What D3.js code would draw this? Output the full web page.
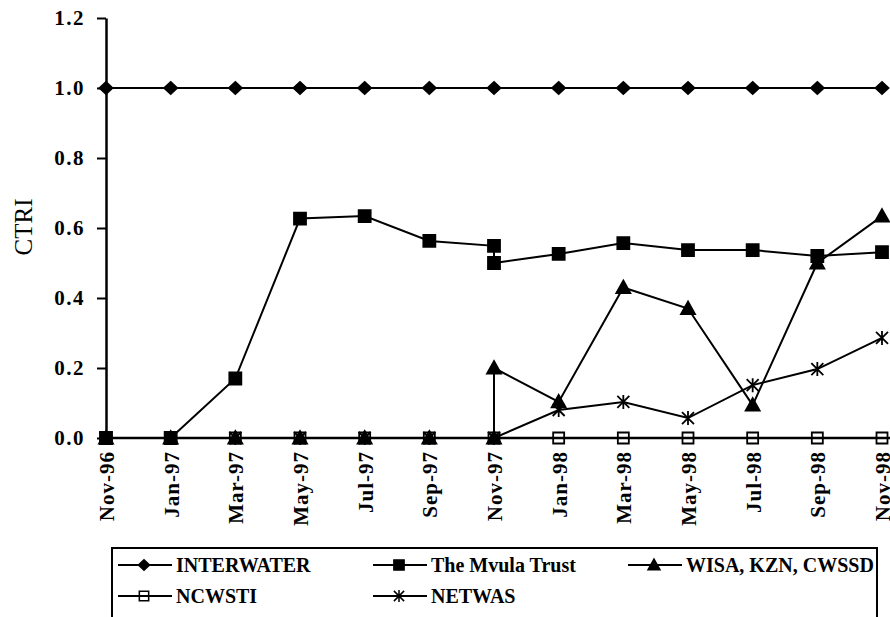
<!DOCTYPE html>
<html>
<head>
<meta charset="utf-8">
<script src="https://d3js.org/d3.v7.min.js"></script>
<style>
  body { margin: 0; background: #fff; }
  svg text { font-family: "Liberation Serif", "Times New Roman", serif; fill: #000; }
</style>
</head>
<body>
<div id="chart"></div>
<script>
// tick labels along the x axis, one every two months
var months = ["Nov-96", "Jan-97", "Mar-97", "May-97", "Jul-97", "Sep-97", "Nov-97",
              "Jan-98", "Mar-98", "May-98", "Jul-98", "Sep-98", "Nov-98"];
var yTicks = [0, 0.2, 0.4, 0.6, 0.8, 1.0, 1.2];

// series (x = index into months; Nov-97 has two readings for some series)
var interwaterX = [0, 1, 2, 3, 4, 5, 6, 7, 8, 9, 10, 11, 12];
var interwaterY = [1, 1, 1, 1, 1, 1, 1, 1, 1, 1, 1, 1, 1];

var mvulaX = [0, 1, 2, 3, 4, 5, 6, 6, 7, 8, 9, 10, 11, 12];
var mvulaY = [0, 0, 0.17, 0.627, 0.634, 0.563, 0.549, 0.50, 0.526, 0.557, 0.537, 0.537, 0.52, 0.531];

var wisaX = [0, 1, 2, 3, 4, 5, 6, 6, 7, 8, 9, 10, 11, 12];
var wisaY = [0, 0, 0, 0, 0, 0, 0, 0.2, 0.103, 0.43, 0.37, 0.094, 0.5, 0.634];

var ncwstiX = [0, 1, 2, 3, 4, 5, 6, 7, 8, 9, 10, 11, 12];
var ncwstiY = [0, 0, 0, 0, 0, 0, 0, 0, 0, 0, 0, 0, 0];

var netwasX = [0, 1, 2, 3, 4, 5, 6, 7, 8, 9, 10, 11, 12];
var netwasY = [0, 0, 0, 0, 0, 0, 0, 0.08, 0.103, 0.057, 0.151, 0.197, 0.286];

var seriesNames = ["INTERWATER", "The Mvula Trust", "WISA, KZN, CWSSD", "NCWSTI", "NETWAS"];

var width = 890, height = 617;
var svg = d3.select("#chart").append("svg")
  .attr("width", width).attr("height", height);

var x = d3.scaleLinear().domain([0, 12]).range([106, 882]);
var y = d3.scaleLinear().domain([0, 1.2]).range([438, 18]);

// marker shapes
function marker(type) {
  if (type == "diamond") return "M0,-6L6.5,0L0,6L-6.5,0Z";
  if (type == "square") return "M-6,-6H6V6H-6Z";
  if (type == "smallsquare") return "M-5.5,-5.5H5.5V5.5H-5.5Z";
  if (type == "triangle") return "M0,-7L7,5.5H-7Z";
  if (type == "star") return "M-6,-6L6,6M-6,6L6,-6M0,-7V7";
}

var series = [
  { name: seriesNames[3], xs: ncwstiX, ys: ncwstiY, shape: "smallsquare", fill: "none" },
  { name: seriesNames[2], xs: wisaX, ys: wisaY, shape: "triangle", fill: "#000" },
  { name: seriesNames[4], xs: netwasX, ys: netwasY, shape: "star", fill: "none" },
  { name: seriesNames[1], xs: mvulaX, ys: mvulaY, shape: "square", fill: "#000" },
  { name: seriesNames[0], xs: interwaterX, ys: interwaterY, shape: "diamond", fill: "#000" }
];

// axes
var yAxis = d3.axisLeft(y).tickValues(yTicks).tickFormat(d3.format(".1f"))
  .tickSize(9).tickSizeOuter(0).tickPadding(12);
var gy = svg.append("g").attr("transform", "translate(106,0)").call(yAxis);
gy.select(".domain").attr("stroke", "#000").attr("stroke-width", 2.5);
gy.selectAll(".tick line").attr("stroke", "#000").attr("stroke-width", 2);
gy.selectAll(".tick text")
  .style("font-size", "21px").style("font-weight", "bold")
  .style("letter-spacing", "1.5px")
  .style("font-family", "'Liberation Serif', serif");

var xAxis = d3.axisBottom(x).tickValues(d3.range(months.length))
  .tickFormat(function(i) { return months[i]; })
  .tickSize(0).tickSizeOuter(0);
var gx = svg.append("g").attr("transform", "translate(0,438)").call(xAxis);
gx.select(".domain").attr("d", "M106,0H890").attr("stroke", "#000").attr("stroke-width", 2.5);
gx.selectAll(".tick text")
  .attr("transform", "rotate(-90)")
  .attr("text-anchor", "end")
  .attr("x", -13).attr("y", 0).attr("dy", "0.35em")
  .style("font-size", "21px").style("font-weight", "bold")
  .style("letter-spacing", "1px")
  .style("font-family", "'Liberation Serif', serif");

// y axis title
svg.append("text")
  .attr("transform", "translate(32,227) rotate(-90)")
  .attr("text-anchor", "middle")
  .style("font-size", "25px")
  .text("CTRI");

// lines
var line = d3.line().x(function(d) { return x(d[0]); }).y(function(d) { return y(d[1]); });

series.forEach(function(s) {
  var pts = s.xs.map(function(v, i) { return [v, s.ys[i]]; });
  svg.append("path").datum(pts)
    .attr("d", line)
    .attr("fill", "none").attr("stroke", "#000").attr("stroke-width", 2);
});

// markers drawn on top
series.forEach(function(s) {
  var pts = s.xs.map(function(v, i) { return [v, s.ys[i]]; });
  svg.append("g").selectAll("path").data(pts).enter().append("path")
    .attr("transform", function(d) { return "translate(" + x(d[0]) + "," + y(d[1]) + ")"; })
    .attr("d", marker(s.shape))
    .attr("fill", s.fill)
    .attr("stroke", "#000")
    .attr("stroke-width", s.shape == "star" ? 1.8 : 1.8);
});

// legend
var legend = svg.append("g");
legend.append("rect")
  .attr("x", 112).attr("y", 548).attr("width", 765).attr("height", 90)
  .attr("fill", "none").attr("stroke", "#000").attr("stroke-width", 2);

var legendItems = [
  { name: seriesNames[0], shape: "diamond", fill: "#000", x0: 118, y0: 565 },
  { name: seriesNames[1], shape: "square", fill: "#000", x0: 373, y0: 565 },
  { name: seriesNames[2], shape: "triangle", fill: "#000", x0: 628, y0: 565 },
  { name: seriesNames[3], shape: "smallsquare", fill: "none", x0: 118, y0: 596 },
  { name: seriesNames[4], shape: "star", fill: "none", x0: 373, y0: 596 }
];

legendItems.forEach(function(it) {
  var g = legend.append("g").attr("transform", "translate(" + it.x0 + "," + it.y0 + ")");
  g.append("line").attr("x1", 0).attr("x2", 54).attr("y1", 0).attr("y2", 0)
    .attr("stroke", "#000").attr("stroke-width", 2);
  g.append("path").attr("transform", "translate(26,0) scale(0.85)")
    .attr("d", marker(it.shape))
    .attr("fill", it.fill).attr("stroke", "#000").attr("stroke-width", 1.8);
  g.append("text").attr("x", 58).attr("y", 7)
    .style("font-size", "20px").style("font-weight", "bold")
    .text(it.name);
});
</script>
</body>
</html>
